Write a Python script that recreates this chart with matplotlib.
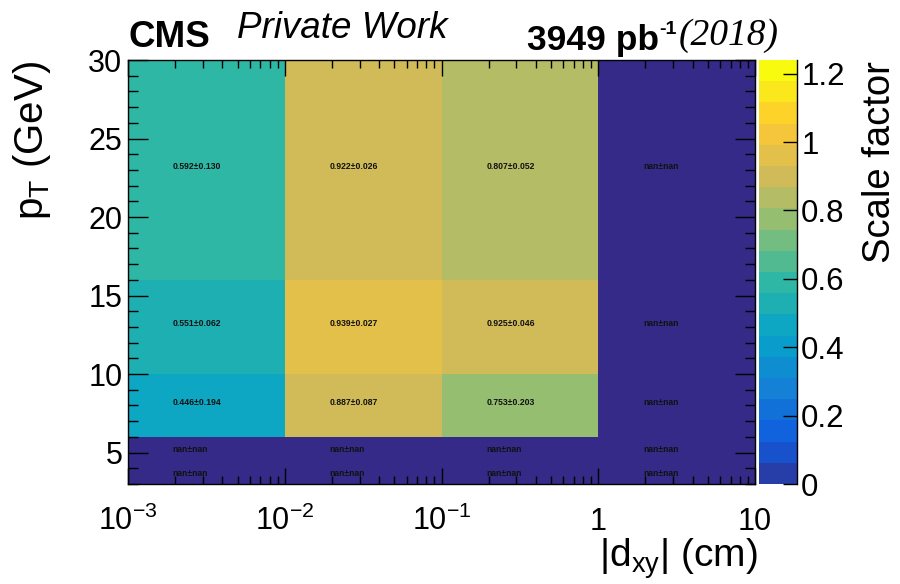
import numpy as np
import matplotlib
matplotlib.use("Agg")
import matplotlib.pyplot as plt
from matplotlib.colors import LinearSegmentedColormap, ListedColormap, BoundaryNorm
from matplotlib.ticker import FixedLocator, MultipleLocator, NullFormatter, FuncFormatter

nan = np.nan

# Binning: |dxy| (cm) columns, pT (GeV) rows
dxy_edges = [1e-3, 1e-2, 1e-1, 1.0, 10.0]
pt_edges = [3, 4, 6, 10, 16, 30]

# Scale factors per pT row (low to high), one entry per |dxy| bin
sf_pt_3_4 = [nan, nan, nan, nan]
sf_pt_4_6 = [nan, nan, nan, nan]
sf_pt_6_10 = [0.446, 0.887, 0.753, nan]
sf_pt_10_16 = [0.551, 0.939, 0.925, nan]
sf_pt_16_30 = [0.592, 0.922, 0.807, nan]

err_pt_3_4 = [nan, nan, nan, nan]
err_pt_4_6 = [nan, nan, nan, nan]
err_pt_6_10 = [0.194, 0.087, 0.203, nan]
err_pt_10_16 = [0.062, 0.027, 0.046, nan]
err_pt_16_30 = [0.130, 0.026, 0.052, nan]

z_ticks = [0, 0.2, 0.4, 0.6, 0.8, 1.0, 1.2]
z_max = 1.24
n_contours = 20

sf = np.array([sf_pt_3_4, sf_pt_4_6, sf_pt_6_10, sf_pt_10_16, sf_pt_16_30])
err = np.array([err_pt_3_4, err_pt_4_6, err_pt_6_10, err_pt_10_16, err_pt_16_30])

# ROOT "kBird" palette, reduced to discrete contour colours
stops = [0.0, 0.125, 0.25, 0.375, 0.5, 0.625, 0.75, 0.875, 1.0]
red = [0.2082, 0.0592, 0.0780, 0.0232, 0.1802, 0.5301, 0.8186, 0.9956, 0.9764]
green = [0.1664, 0.3599, 0.5041, 0.6419, 0.7178, 0.7492, 0.7328, 0.7862, 0.9832]
blue = [0.5293, 0.8684, 0.8385, 0.7914, 0.6425, 0.4662, 0.3499, 0.1968, 0.0539]
bird = LinearSegmentedColormap.from_list(
    "bird", [(s, (r, g, b)) for s, r, g, b in zip(stops, red, green, blue)], N=255)
level_colors = [bird(int((i + 0.99) * 255 / n_contours) / 254.0) for i in range(n_contours)]
cmap = ListedColormap(level_colors)
cmap.set_bad((0.2082, 0.1664, 0.5293))
norm = BoundaryNorm(np.linspace(0, z_max, n_contours + 1), n_contours)

plt.rcParams["font.family"] = ["Liberation Sans", "DejaVu Sans"]
plt.rcParams["mathtext.fontset"] = "custom"
plt.rcParams["mathtext.rm"] = "Liberation Sans"
plt.rcParams["mathtext.it"] = "Liberation Sans:italic"
plt.rcParams["mathtext.bf"] = "Liberation Sans:bold"

W, H = 900, 584
fig = plt.figure(figsize=(W / 100, H / 100), dpi=100)


def px_rect(left, top, right, bottom):
    return [left / W, 1 - bottom / H, (right - left) / W, (bottom - top) / H]


ax = fig.add_axes(px_rect(128, 60, 755, 484))
cax = fig.add_axes(px_rect(759, 60, 797, 484))

mesh = ax.pcolormesh(dxy_edges, pt_edges, np.ma.masked_invalid(sf),
                     cmap=cmap, norm=norm, shading="flat")
ax.set_xscale("log")
ax.set_xlim(dxy_edges[0], dxy_edges[-1])
ax.set_ylim(pt_edges[0], pt_edges[-1])

# Value labels in every cell
for i in range(len(pt_edges) - 1):
    yc = 0.5 * (pt_edges[i] + pt_edges[i + 1])
    for j in range(len(dxy_edges) - 1):
        lo = np.log10(dxy_edges[j])
        hi = np.log10(dxy_edges[j + 1])
        xl = 10 ** (lo + 0.285 * (hi - lo))
        v, e = sf[i, j], err[i, j]
        txt = "nan±nan" if np.isnan(v) else f"{v:.3f}±{e:.3f}"
        ax.annotate(txt, (xl, yc), xytext=(0, 3), textcoords="offset pixels",
                    ha="left", va="center", fontsize=6.2, fontweight="bold",
                    color="#111111")

# Axes styling
for s in ax.spines.values():
    s.set_linewidth(1.0)
    s.set_color("black")

x_major = [1e-3, 1e-2, 1e-1, 1, 10]
x_labels = [r"$10^{-3}$", r"$10^{-2}$", r"$10^{-1}$", "1", "10"]
ax.xaxis.set_major_locator(FixedLocator(x_major))
x_minor = [m * d for d in [1e-3, 1e-2, 1e-1, 1] for m in range(2, 10)]
ax.xaxis.set_minor_locator(FixedLocator(x_minor))
ax.xaxis.set_minor_formatter(NullFormatter())
ax.set_xticklabels(x_labels, va="baseline")
ax.yaxis.set_major_locator(MultipleLocator(5))
ax.yaxis.set_minor_locator(MultipleLocator(1))

ax.tick_params(axis="x", which="major", direction="in", length=11.5, width=1,
               top=True, bottom=True, labelsize=22, pad=33)
ax.tick_params(axis="x", which="minor", direction="in", length=5.8, width=1,
               top=True, bottom=True)
ax.tick_params(axis="y", which="major", direction="in", length=14.4, width=1,
               left=True, right=True, labelsize=22, pad=4)
ax.tick_params(axis="y", which="minor", direction="in", length=7.2, width=1,
               left=True, right=True)

# Colour scale
cb = fig.colorbar(mesh, cax=cax, ticks=z_ticks, spacing="proportional")
cb.outline.set_visible(False)
cax.set_ylim(0, z_max)
cax.yaxis.set_major_formatter(FuncFormatter(lambda v, p: f"{v:g}"))
cax.tick_params(direction="in", length=10, width=1, labelsize=22.5, pad=3,
                right=True, left=False)
cax.minorticks_off()
cax.plot([1, 1], [0, 1], transform=cax.transAxes, color="black", lw=1,
         clip_on=False)

# Axis titles
fig.text(32 / W, 1 - 61 / H, r"p$_{\mathrm{T}}$ (GeV)", rotation=90,
         ha="center", va="top", fontsize=29)
fig.text(758 / W, 1 - 567 / H, r"|d$_{\mathrm{xy}}$| (cm)",
         ha="right", va="baseline", fontsize=28)
fig.text(880 / W, 1 - 61 / H, "Scale factor", rotation=90,
         ha="center", va="top", fontsize=27.5)

# Header
fig.text(128 / W, 1 - 47 / H, "CMS", fontsize=26.5, fontweight="bold",
         ha="left", va="baseline")
fig.text(237 / W, 1 - 38 / H, "Private Work", fontsize=26.5, style="italic",
         ha="left", va="baseline")
fig.text(527 / W, 1 - 50 / H, "3949 pb", fontsize=25.5, fontweight="bold",
         ha="left", va="baseline")
fig.text(659 / W, 1 - 34 / H, "-1", fontsize=14, fontweight="bold",
         ha="left", va="baseline")
fig.text(679 / W, 1 - 45 / H, "(2018)", fontsize=27, style="italic",
         family="Liberation Serif", ha="left", va="baseline")

fig.savefig("out.png", dpi=100)
